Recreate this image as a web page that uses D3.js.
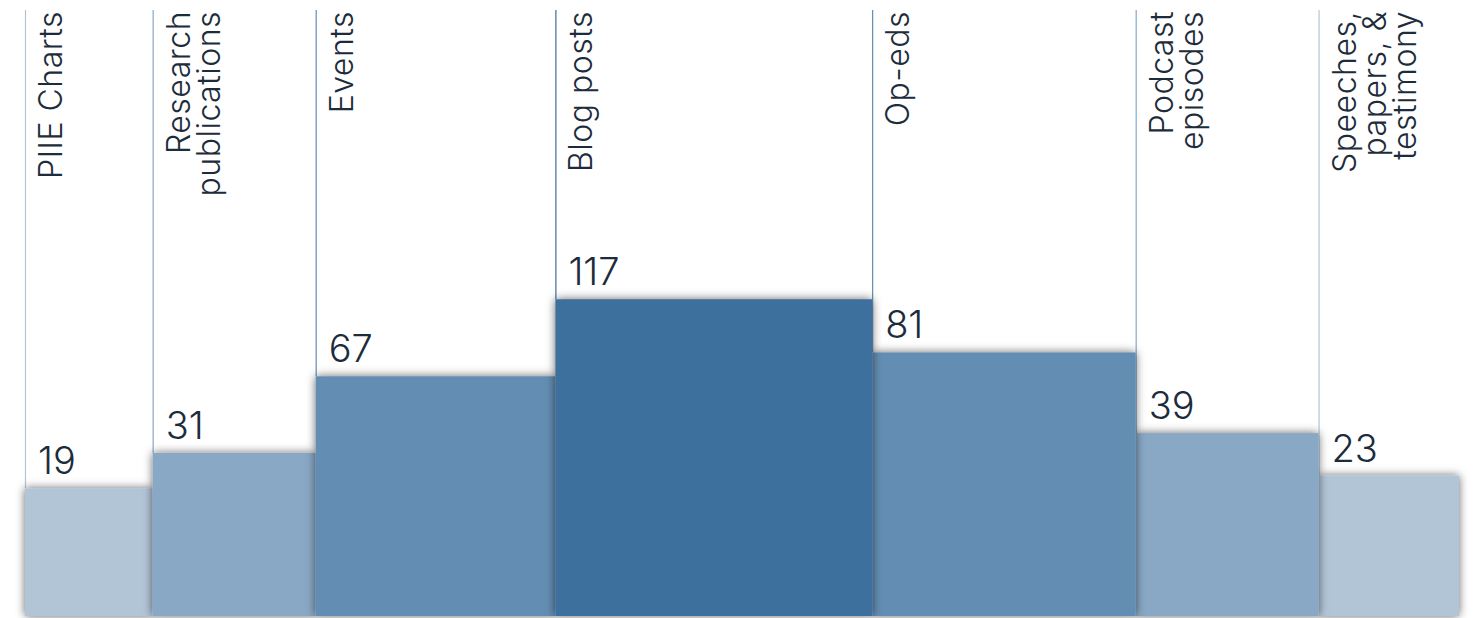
<!DOCTYPE html>
<html>
<head>
<meta charset="utf-8">
<script src="https://cdn.jsdelivr.net/npm/d3@7"></script>
<style>
  body { margin: 0; background: #fff; }
  text { font-family: Inter, Lato, sans-serif; fill: #1d2c3b; }
</style>
</head>
<body>
<div id="viz-container"></div>
<script>
var width = 1477,
    height = 618,
    margin = {top: 11, left: 25, right: 18, bottom: 2};

// data
var categories = ["PIIE Charts", "Research\npublications", "Events", "Blog posts",
                  "Op-eds", "Podcast\nepisodes", "Speeches,\npapers, &\ntestimony"];
var counts = [19, 31, 67, 117, 81, 39, 23];
var colorBreaks = [25, 50, 100];
var colorRange = ["#b2c5d7", "#89a8c5", "#638db2", "#3d6f9c"];

var svg = d3.select("#viz-container")
            .append("svg")
            .attr("width", width)
            .attr("height", height);

// soft shadow round each square
var defs = svg.append("defs");
var filter = defs.append("filter")
    .attr("id", "shadow")
    .attr("x", "-20%").attr("y", "-20%")
    .attr("width", "140%").attr("height", "140%");
filter.append("feGaussianBlur").attr("in", "SourceAlpha").attr("stdDeviation", 5).attr("result", "blur");
filter.append("feFlood").attr("flood-color", "#000").attr("flood-opacity", 0.6);
filter.append("feComposite").attr("in2", "blur").attr("operator", "in").attr("result", "sh");
var merge = filter.append("feMerge");
merge.append("feMergeNode").attr("in", "sh");
merge.append("feMergeNode").attr("in", "SourceGraphic");

var data = categories.map(function(c, i) {
    return {label: c, value: counts[i], index: i};
});

// every bar is a square, area ~ count
var innerW = width - margin.left - margin.right;
var k = innerW / d3.sum(counts, Math.sqrt);
var side = d3.scaleSqrt()
             .domain([0, d3.max(counts)])
             .range([0, k * Math.sqrt(d3.max(counts))]);

var baseline = height - margin.bottom;
var x0 = margin.left;
data.forEach(function(d) {
    d.x = x0;
    d.w = side(d.value);
    x0 += d.w;
});

var color = d3.scaleThreshold()
              .domain(colorBreaks)
              .range(colorRange);

// column guide lines
svg.append("g")
   .selectAll("line")
   .data(data)
   .enter().append("line")
   .attr("x1", function(d) { return d.x + 0.5; })
   .attr("x2", function(d) { return d.x + 0.5; })
   .attr("y1", margin.top - 1)
   .attr("y2", function(d) { return baseline - d.w; })
   .attr("stroke", function(d) { return color(d.value); })
   .attr("stroke-width", 1.2);

// squares, bigger ones on top
svg.append("g")
   .selectAll("rect")
   .data(data.slice().sort(function(a, b) { return a.value - b.value; }))
   .enter().append("rect")
   .attr("x", function(d) { return d.x; })
   .attr("y", function(d) { return baseline - d.w; })
   .attr("width", function(d) { return d.w; })
   .attr("height", function(d) { return d.w; })
   .attr("fill", function(d) { return color(d.value); })
   .attr("filter", "url(#shadow)");

// value labels
svg.append("g")
   .selectAll("text")
   .data(data)
   .enter().append("text")
   .attr("x", function(d) { return d.x + 13; })
   .attr("y", function(d) { return baseline - d.w - 14; })
   .attr("font-size", "38px")
   .attr("font-weight", 300)
   .text(function(d) { return d.value; });

// rotated category labels
var labels = svg.append("g")
   .selectAll("text")
   .data(data)
   .enter().append("text")
   .attr("transform", function(d) {
       return "translate(" + (d.x + 37) + "," + margin.top + ") rotate(-90)";
   })
   .attr("text-anchor", "end")
   .attr("font-size", "32px")
   .attr("letter-spacing", "0.5px")
   .attr("font-weight", 300);

labels.selectAll("tspan")
   .data(function(d) { return d.label.split("\n"); })
   .enter().append("tspan")
   .attr("x", 0)
   .attr("y", function(d, i) { return i * 30; })
   .text(function(d) { return d; });
</script>
</body>
</html>
